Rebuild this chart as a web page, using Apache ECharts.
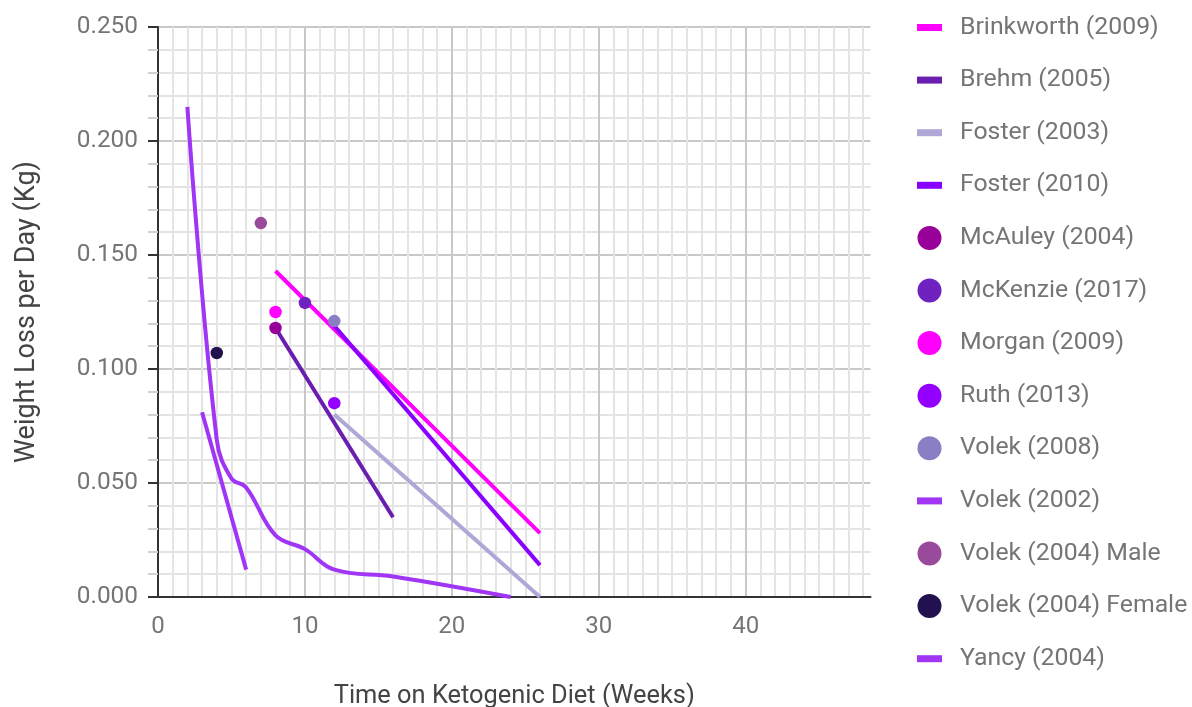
<!DOCTYPE html>
<html>
<head>
<meta charset="utf-8">
<script src="https://cdn.jsdelivr.net/npm/echarts@6/dist/echarts.min.js"></script>
<style>
html,body{margin:0;padding:0;background:#fff;}
#chart{width:1192px;height:707px;}
</style>
</head>
<body>
<div id="chart"></div>
<script>
// ---- data (weeks, kg/day) ----
const brinkworth2009 = [[8, 0.143], [26, 0.028]];
const brehm2005 = [[8, 0.118], [16, 0.035]];
const foster2003 = [[12, 0.080], [26, 0.000]];
const foster2010 = [[12, 0.119], [26, 0.014]];
const mcauley2004 = [[8, 0.118]];
const mckenzie2017 = [[10, 0.129]];
const morgan2009 = [[8, 0.125]];
const ruth2013 = [[12, 0.085]];
const volek2008 = [[12, 0.121]];
const volek2002 = [[2, 0.215], [4, 0.069], [5, 0.052], [6, 0.048], [8, 0.027], [10, 0.021], [12, 0.012], [16, 0.009], [24, 0.000]];
const volek2004Male = [[7, 0.164]];
const volek2004Female = [[4, 0.107]];
const yancy2004 = [[3, 0.081], [6, 0.012]];

const xLabelValues = [0, 10, 20, 30, 40];
const yLabelDigits = 3;

const seriesDefs = [
  {name: 'Brinkworth (2009)', type: 'line', data: brinkworth2009, color: '#ff00ff'},
  {name: 'Brehm (2005)', type: 'line', data: brehm2005, color: '#6a1eb0'},
  {name: 'Foster (2003)', type: 'line', data: foster2003, color: '#b1a7d7'},
  {name: 'Foster (2010)', type: 'line', data: foster2010, color: '#8a00ff'},
  {name: 'McAuley (2004)', type: 'scatter', data: mcauley2004, color: '#990099'},
  {name: 'McKenzie (2017)', type: 'scatter', data: mckenzie2017, color: '#6f22bf'},
  {name: 'Morgan (2009)', type: 'scatter', data: morgan2009, color: '#ff00ff'},
  {name: 'Ruth (2013)', type: 'scatter', data: ruth2013, color: '#9400ff'},
  {name: 'Volek (2008)', type: 'scatter', data: volek2008, color: '#8a7fc4'},
  {name: 'Volek (2002)', type: 'line', data: volek2002, color: '#a035f5', smooth: 0.4},
  {name: 'Volek (2004) Male', type: 'scatter', data: volek2004Male, color: '#9a4a9a'},
  {name: 'Volek (2004) Female', type: 'scatter', data: volek2004Female, color: '#21124f'},
  {name: 'Yancy (2004)', type: 'line', data: yancy2004, color: '#a035f5'}
];

const lineIcon = 'path://M0,0h25v7h-25z';
const minorGrid = '#e4e4e4';
const majorGrid = '#c8c8c8';
const xSplitColors = [majorGrid].concat(new Array(9).fill(minorGrid));

const chart = echarts.init(document.getElementById('chart'), null, {renderer: 'canvas'});

const series = seriesDefs.map(d => {
  if (d.type === 'line') {
    return {
      name: d.name, type: 'line', data: d.data,
      showSymbol: false, symbol: 'none',
      smooth: d.smooth || false,
      lineStyle: {width: 4, color: d.color, cap: 'butt'},
      itemStyle: {color: d.color},
      z: 2, animation: false
    };
  }
  return {
    name: d.name, type: 'scatter', data: d.data,
    symbol: 'circle', symbolSize: 12.5,
    itemStyle: {color: d.color, opacity: 1},
    z: 3, animation: false
  };
});

const option = {
  animation: false,
  backgroundColor: '#ffffff',
  textStyle: {fontFamily: 'Roboto'},
  grid: {left: 158, top: 27, right: 321.5, bottom: 110, containLabel: false, outerBoundsMode: 'none'},
  legend: {
    orient: 'vertical',
    left: 917, top: 15,
    itemWidth: 25, itemHeight: 24, itemGap: 27.6,
    padding: 0,
    selectedMode: false,
    textStyle: {fontSize: 24.8, color: '#757575', fontFamily: 'Roboto', lineHeight: 24, padding: [0, 0, 0, 13]},
    data: seriesDefs.map(d => d.type === 'line' ? {name: d.name, icon: lineIcon} : {name: d.name, icon: 'circle'})
  },
  xAxis: {
    type: 'value', min: 0, max: 48.5, interval: 1,
    name: 'Time on Ketogenic Diet (Weeks)', nameLocation: 'middle', nameGap: 87,
    nameTextStyle: {fontSize: 25.4, color: '#444444', fontFamily: 'Roboto'},
    axisLine: {show: true, lineStyle: {color: '#333333', width: 2}},
    axisTick: {show: false},
    axisLabel: {
      margin: 18, fontSize: 24, color: '#757575', fontFamily: 'Roboto',
      showMaxLabel: false,
      formatter: v => xLabelValues.indexOf(v) >= 0 ? String(v) : ''
    },
    splitLine: {show: true, showMaxLine: false, lineStyle: {color: xSplitColors, width: 2}}
  },
  yAxis: {
    type: 'value', min: 0, max: 0.25, interval: 0.05,
    name: 'Weight Loss per Day (Kg)', nameLocation: 'middle', nameGap: 117,
    nameTextStyle: {fontSize: 27, color: '#444444', fontFamily: 'Roboto'},
    axisLine: {show: true, lineStyle: {color: '#333333', width: 2}},
    axisTick: {show: true, length: 10, lineStyle: {color: '#333333', width: 2}},
    minorTick: {show: true, splitNumber: 5, length: 10, lineStyle: {color: '#d0d0d0', width: 2}},
    axisLabel: {
      margin: 20, fontSize: 24.4, color: '#757575', fontFamily: 'Roboto',
      formatter: v => v.toFixed(yLabelDigits)
    },
    splitLine: {show: true, lineStyle: {color: majorGrid, width: 2}},
    minorSplitLine: {show: true, lineStyle: {color: minorGrid, width: 2}}
  },
  series: series
};

chart.setOption(option);
</script>
</body>
</html>
